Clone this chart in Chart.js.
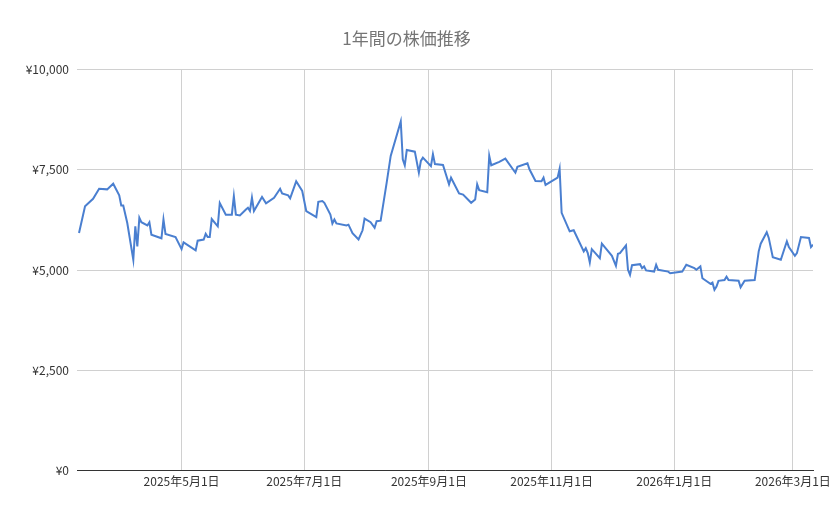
<!DOCTYPE html>
<html><head><meta charset="utf-8">
<script src="https://cdn.jsdelivr.net/npm/chart.js@4"></script>
<style>html,body{margin:0;background:#fff}#w{width:839px;height:519px}</style>
</head><body><div id="w"><canvas id="c"></canvas></div>
<script>
const dates=["2025-03-11","2025-03-14","2025-03-18","2025-03-21","2025-03-25","2025-03-28","2025-03-31","2025-04-01","2025-04-02","2025-04-04","2025-04-07","2025-04-08","2025-04-09","2025-04-10","2025-04-11","2025-04-14","2025-04-15","2025-04-16","2025-04-21","2025-04-22","2025-04-23","2025-04-28","2025-05-01","2025-05-02","2025-05-08","2025-05-09","2025-05-12","2025-05-13","2025-05-14","2025-05-15","2025-05-16","2025-05-19","2025-05-20","2025-05-23","2025-05-26","2025-05-27","2025-05-28","2025-05-30","2025-06-02","2025-06-03","2025-06-04","2025-06-05","2025-06-06","2025-06-10","2025-06-12","2025-06-16","2025-06-19","2025-06-20","2025-06-23","2025-06-24","2025-06-27","2025-06-30","2025-07-02","2025-07-07","2025-07-08","2025-07-10","2025-07-11","2025-07-14","2025-07-15","2025-07-16","2025-07-17","2025-07-22","2025-07-23","2025-07-25","2025-07-28","2025-07-30","2025-07-31","2025-08-03","2025-08-05","2025-08-06","2025-08-08","2025-08-11","2025-08-13","2025-08-18","2025-08-19","2025-08-20","2025-08-21","2025-08-25","2025-08-27","2025-08-28","2025-08-29","2025-09-02","2025-09-03","2025-09-04","2025-09-08","2025-09-11","2025-09-12","2025-09-16","2025-09-18","2025-09-22","2025-09-24","2025-09-25","2025-09-26","2025-09-30","2025-10-01","2025-10-02","2025-10-06","2025-10-09","2025-10-14","2025-10-15","2025-10-20","2025-10-21","2025-10-24","2025-10-27","2025-10-28","2025-10-29","2025-11-04","2025-11-05","2025-11-06","2025-11-10","2025-11-12","2025-11-17","2025-11-18","2025-11-19","2025-11-20","2025-11-21","2025-11-25","2025-11-26","2025-12-01","2025-12-03","2025-12-04","2025-12-05","2025-12-08","2025-12-09","2025-12-10","2025-12-11","2025-12-15","2025-12-16","2025-12-17","2025-12-18","2025-12-22","2025-12-23","2025-12-24","2025-12-29","2025-12-30","2026-01-05","2026-01-07","2026-01-11","2026-01-12","2026-01-14","2026-01-15","2026-01-19","2026-01-20","2026-01-21","2026-01-22","2026-01-23","2026-01-26","2026-01-27","2026-01-28","2026-02-02","2026-02-03","2026-02-05","2026-02-10","2026-02-12","2026-02-13","2026-02-16","2026-02-17","2026-02-19","2026-02-23","2026-02-26","2026-02-27","2026-03-02","2026-03-03","2026-03-05","2026-03-09","2026-03-10","2026-03-11"];
const prices=[5920,6590,6775,7025,7010,7150,6860,6610,6610,6170,5255,6090,5590,6300,6190,6110,6190,5880,5790,6260,5900,5820,5520,5690,5490,5730,5760,5900,5820,5820,6270,6090,6670,6380,6380,6840,6380,6360,6510,6550,6470,6800,6470,6820,6660,6800,7025,6910,6860,6785,7210,6970,6470,6320,6700,6720,6675,6380,6160,6260,6160,6110,6130,5920,5760,5990,6280,6190,6050,6215,6230,7180,7845,8705,7760,7610,7990,7950,7425,7720,7800,7590,7885,7640,7620,7135,7300,6910,6880,6675,6760,7135,6990,6940,7845,7610,7695,7775,7425,7570,7660,7510,7220,7210,7300,7120,7300,7525,6425,5965,5990,5465,5545,5420,5190,5520,5295,5655,5355,5105,5405,5420,5615,5005,4880,5120,5145,5045,5090,4990,4960,5130,5005,4960,4920,4960,5130,5045,5005,5090,4795,4655,4685,4505,4585,4730,4750,4835,4750,4735,4570,4735,4750,5465,5655,5940,5800,5320,5255,5715,5570,5355,5420,5820,5800,5570,5630];
const tickDates=["2025-05-01","2025-07-01","2025-09-01","2025-11-01","2026-01-01","2026-03-01"];
const yTicks=[0,2500,5000,7500,10000];
const DAY=86400000;
const toDay=s=>{const [y,m,d]=s.split("-").map(Number);return Date.UTC(y,m-1,d)/DAY;};
const fmtDay=v=>{const dt=new Date(v*DAY);return dt.getUTCFullYear()+"年"+(dt.getUTCMonth()+1)+"月"+dt.getUTCDate()+"日";};
const pts=dates.map((d,i)=>({x:toDay(d),y:prices[i]}));
const F='"Noto Sans CJK JP","Noto Sans",sans-serif';
new Chart(document.getElementById('c'),{
 type:'line',
 data:{datasets:[{data:pts,borderColor:'#4a7fd0',borderWidth:2,pointRadius:0,tension:0,fill:false}]},
 options:{responsive:true,maintainAspectRatio:false,animation:false,
  layout:{padding:{top:20,right:26,left:0,bottom:26}},
  plugins:{legend:{display:false},tooltip:{enabled:false},
   title:{display:true,text:'1年間の株価推移',color:'#757575',font:{family:F,size:17,weight:'normal'},padding:{top:8,bottom:21}}},
  scales:{
   x:{type:'linear',min:toDay(dates[0])-1,max:toDay(dates[dates.length-1]),
    afterBuildTicks:a=>{a.ticks=tickDates.map(d=>({value:toDay(d)}));},
    ticks:{callback:v=>fmtDay(v),color:'#333',font:{family:F,size:12},maxRotation:0,autoSkip:false,padding:4},
    grid:{color:'#d0d0d0',drawTicks:false,tickLength:0},border:{display:true,color:'#333'}},
   y:{min:0,max:10000,
    afterBuildTicks:a=>{a.ticks=yTicks.map(v=>({value:v}));},
    afterFit:a=>{a.width=77;},
    ticks:{callback:v=>'¥'+v.toLocaleString('en-US'),color:'#333',font:{family:F,size:12},padding:8},
    grid:{color:'#d0d0d0',drawTicks:false},border:{display:false}}
  }}
});
</script></body></html>
